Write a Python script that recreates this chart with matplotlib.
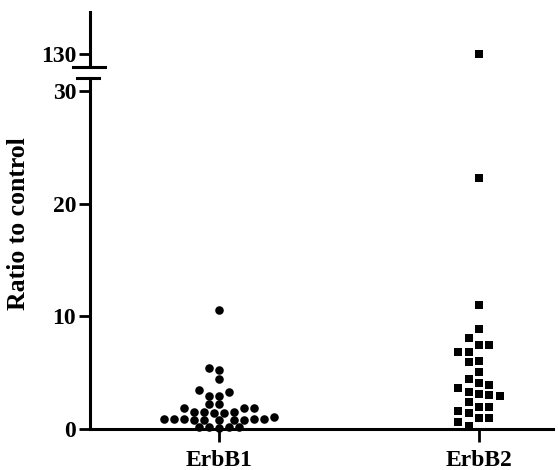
import matplotlib
matplotlib.use("Agg")
import matplotlib.pyplot as plt
import numpy as np

plt.rcParams['font.family'] = ['Liberation Serif', 'DejaVu Serif']
plt.rcParams['font.weight'] = 'bold'

# values (ratio to control)
groups = ['ErbB1', 'ErbB2']
erbb1 = [10.6, 5.45, 5.2, 4.4, 3.45, 3.25, 2.95, 2.95, 2.2, 2.2,
         1.9, 1.85, 1.9, 1.5, 1.5, 1.45, 1.5, 1.45, 1.1,
         0.85, 0.85, 0.8, 0.8, 0.85, 0.8, 0.8, 0.85, 0.85, 0.8,
         0.2, 0.2, 0.2, 0.15, 0.05]
erbb2 = [130.0, 22.25, 11.0, 8.85, 8.05, 7.45, 7.45, 6.86, 6.86, 6.06,
         5.92, 5.08, 4.4, 4.05, 3.9, 3.6, 3.31, 3.1, 3.0, 2.93,
         2.37, 1.93, 1.93, 1.62, 1.39, 1.0, 0.95, 0.65, 0.27]
yticks_low = [0, 10, 20, 30]
yticks_high = [130]

fig = plt.figure(figsize=(5.58, 4.70), dpi=100)
W, H = 558, 470
left, right = 90 / W, 553 / W
ax = fig.add_axes([left, (H - 429) / H, right - left, (429 - 78) / H])
axt = fig.add_axes([left, (H - 67) / H, right - left, (67 - 12) / H], sharex=ax)

ax.set_xlim(0.504, 2.285)
ax.set_ylim(0, 31.15)
axt.set_ylim(127, 139.7)


def swarm(ax, vals, step=5.0, dmin=8.0, box=False, descending=False):
    # beeswarm in display pixels: slide each point sideways until it is clear
    t = ax.transData
    px_x = t.transform((1, 0))[0] - t.transform((0, 0))[0]
    py = [t.transform((0, v))[1] for v in vals]
    seq = [0]
    for j in range(1, 60):
        seq += [-j, j]
    done = []
    offs = np.zeros(len(vals))
    order = np.argsort(vals)
    if descending:
        order = order[::-1]
    for i in order:
        for k in seq:
            x = k * step
            ok = True
            for (qx, qy) in done:
                dx, dy = abs(x - qx), abs(py[i] - qy)
                if box:
                    hit = dx < dmin and dy < dmin
                else:
                    hit = dx * dx + dy * dy < dmin * dmin
                if hit:
                    ok = False
                    break
            if ok:
                break
        done.append((x, py[i]))
        offs[i] = x / px_x
    return offs


lo1 = [v for v in erbb1 if v < 31]
lo2 = [v for v in erbb2 if v < 31]
hi2 = [v for v in erbb2 if v > 31]

ax.scatter(1 + swarm(ax, lo1, step=5.0, dmin=7.6), lo1, s=38, marker='o',
           color='black', linewidths=0, clip_on=False, zorder=2)
ax.scatter(2 + swarm(ax, lo2, step=5.2, dmin=9.5, box=True, descending=True),
           lo2, s=30, marker='s', color='black', linewidths=0,
           clip_on=False, zorder=2)
axt.scatter([2] * len(hi2), hi2, s=30, marker='s', color='black',
            linewidths=0, clip_on=False, zorder=2)

for a in (ax, axt):
    a.spines['right'].set_visible(False)
    a.spines['top'].set_visible(False)
    a.spines['left'].set_linewidth(2.2)
    a.spines['bottom'].set_linewidth(2.2)
    a.spines['left'].set_zorder(3)
    a.spines['bottom'].set_zorder(3)
    a.tick_params(axis='y', length=8, width=2, pad=2, labelsize=17)
    a.patch.set_alpha(0)

axt.spines['bottom'].set_visible(False)
axt.tick_params(axis='x', bottom=False, labelbottom=False)
axt.set_yticks(yticks_high)
ax.set_yticks(yticks_low)
ax.set_xticks([1, 2])
ax.set_xticklabels(groups)
ax.tick_params(axis='x', length=9, width=2, pad=6, labelsize=17)

# axis break marks
axt.plot([-0.037, 0.033], [0, 0], transform=axt.transAxes, color='black',
         lw=2.2, clip_on=False)
ax.plot([-0.028, 0.02], [1, 1], transform=ax.transAxes, color='black',
        lw=2.2, clip_on=False)

fig.text(19 / W, 1 - 224 / H, 'Ratio to control', rotation=90,
         ha='center', va='center', fontsize=18.5, fontweight='bold')

fig.savefig('out.png', dpi=100)
